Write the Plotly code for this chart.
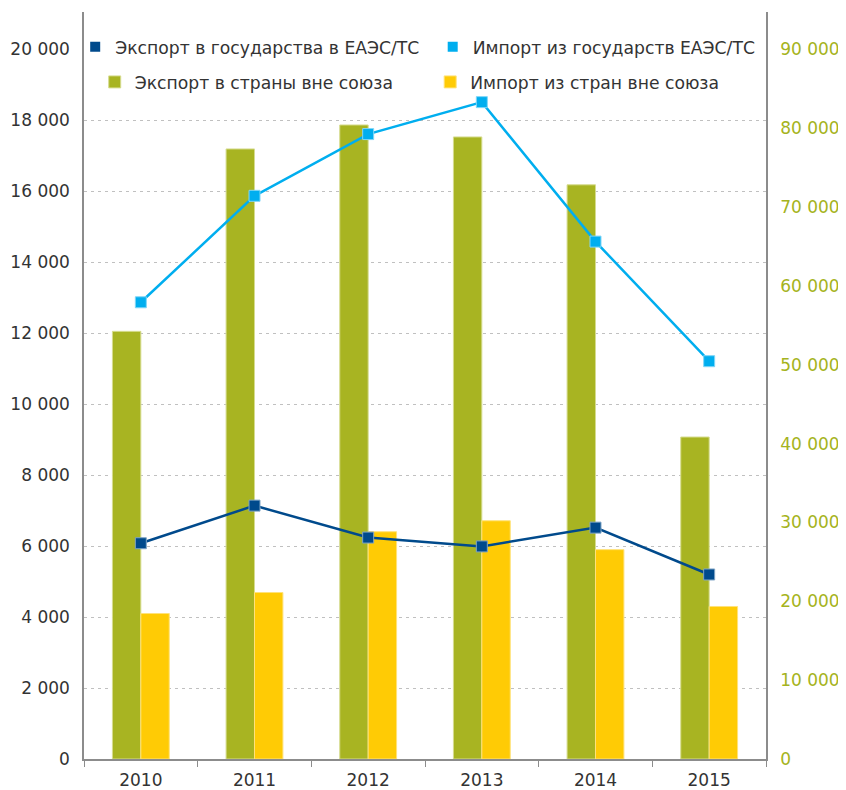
import plotly.graph_objects as go

years = ["2010", "2011", "2012", "2013", "2014", "2015"]
export_eaeu = [6080, 7140, 6240, 5990, 6520, 5200]
import_eaeu = [12870, 15870, 17610, 18510, 14580, 11210]
export_other = [54230, 77360, 80400, 78880, 72810, 40830]
import_other = [18450, 21110, 28820, 30210, 26550, 19340]
left_ticks = list(range(0, 20001, 2000))
right_ticks = list(range(0, 90001, 10000))

names = ["Экспорт в государства в ЕАЭС/ТС", "Импорт из государств ЕАЭС/ТС",
         "Экспорт в страны вне союза", "Импорт из стран вне союза"]
c_dark, c_light, c_green, c_yellow = "#004a8c", "#00aeef", "#a8b422", "#ffcb05"
FONT = "DejaVu Sans"

LEFT_MAX = 21050
RIGHT_MAX = LEFT_MAX * 4.5


def fmt(v):
    return f"{v:,}".replace(",", " ")


fig = go.Figure()
fig.add_trace(go.Bar(x=years, y=export_other, name=names[2],
                     marker=dict(color=c_green, line=dict(color="#d6dc8f", width=1)),
                     yaxis="y", legend="legend3"))
fig.add_trace(go.Bar(x=years, y=import_other, name=names[3],
                     marker=dict(color=c_yellow, line=dict(color="#ffe27a", width=1)),
                     yaxis="y", legend="legend4"))
fig.add_trace(go.Scatter(x=years, y=export_eaeu, mode="lines+markers", name=names[0], showlegend=False,
                         yaxis="y2", line=dict(color=c_dark, width=2.5),
                         marker=dict(symbol="square", size=11, color=c_dark, line=dict(color="#7fa4c5", width=1))))
fig.add_trace(go.Scatter(x=years, y=import_eaeu, mode="lines+markers", name=names[1], showlegend=False,
                         yaxis="y2", line=dict(color=c_light, width=2.5),
                         marker=dict(symbol="square", size=11, color=c_light, line=dict(color="#80d6f7", width=1))))
# legend entries for the line series (square symbol only)
for nm, col, lg in [(names[0], c_dark, "legend"), (names[1], c_light, "legend2")]:
    fig.add_trace(go.Scatter(x=[None], y=[None], mode="markers", name=nm, legend=lg, yaxis="y2",
                             marker=dict(symbol="square", size=10, color=col)))

leg_common = dict(orientation="h", xanchor="left", yanchor="middle", bgcolor="rgba(0,0,0,0)",
                  font=dict(size=17.2, color="#333333"), itemwidth=30)

fig.update_layout(
    width=838, height=782,
    template="none",
    paper_bgcolor="white", plot_bgcolor="white",
    margin=dict(l=76, r=80, t=4, b=31),
    font=dict(family=FONT, size=17, color="#333333"),
    barmode="group", bargap=0.5, bargroupgap=0,
    xaxis=dict(type="category", showgrid=False, showline=True, linecolor="#8c8c8c", linewidth=1.5,
               ticks="outside", tickson="boundaries", ticklen=6, tickcolor="#8c8c8c",
               tickfont=dict(size=17, color="#333333"), automargin=False, ticklabelstandoff=5),
    # primary axis: right side, bars (drawn first, below lines)
    yaxis=dict(range=[0, RIGHT_MAX], side="right",
               tickvals=right_ticks, ticktext=[fmt(v) for v in right_ticks],
               showgrid=False, showline=True, linecolor="#8c8c8c", linewidth=1.5, ticks="", zeroline=False,
               tickfont=dict(size=17, color="#a5b320"), automargin=False, ticklabelstandoff=9,
               minor=dict(tickvals=[v * 4.5 for v in left_ticks[1:-1]], showgrid=True, gridcolor="#c0c0c0",
                          griddash="3px,4px", gridwidth=1, ticks="")),
    # overlay axis: left side, lines
    yaxis2=dict(range=[0, LEFT_MAX], overlaying="y", side="left",
                tickvals=left_ticks, ticktext=[fmt(v) for v in left_ticks],
                showgrid=False, showline=True, linecolor="#8c8c8c", linewidth=1.5, ticks="", zeroline=False,
                tickfont=dict(size=17, color="#333333"), automargin=False, ticklabelstandoff=9),
    legend=dict(x=-0.0129, y=0.953, **leg_common),
    legend2=dict(x=0.5113, y=0.953, **leg_common),
    legend3=dict(x=0.0157, y=0.906, **leg_common),
    legend4=dict(x=0.5076, y=0.906, **leg_common),
)

fig.write_html("out.html")
